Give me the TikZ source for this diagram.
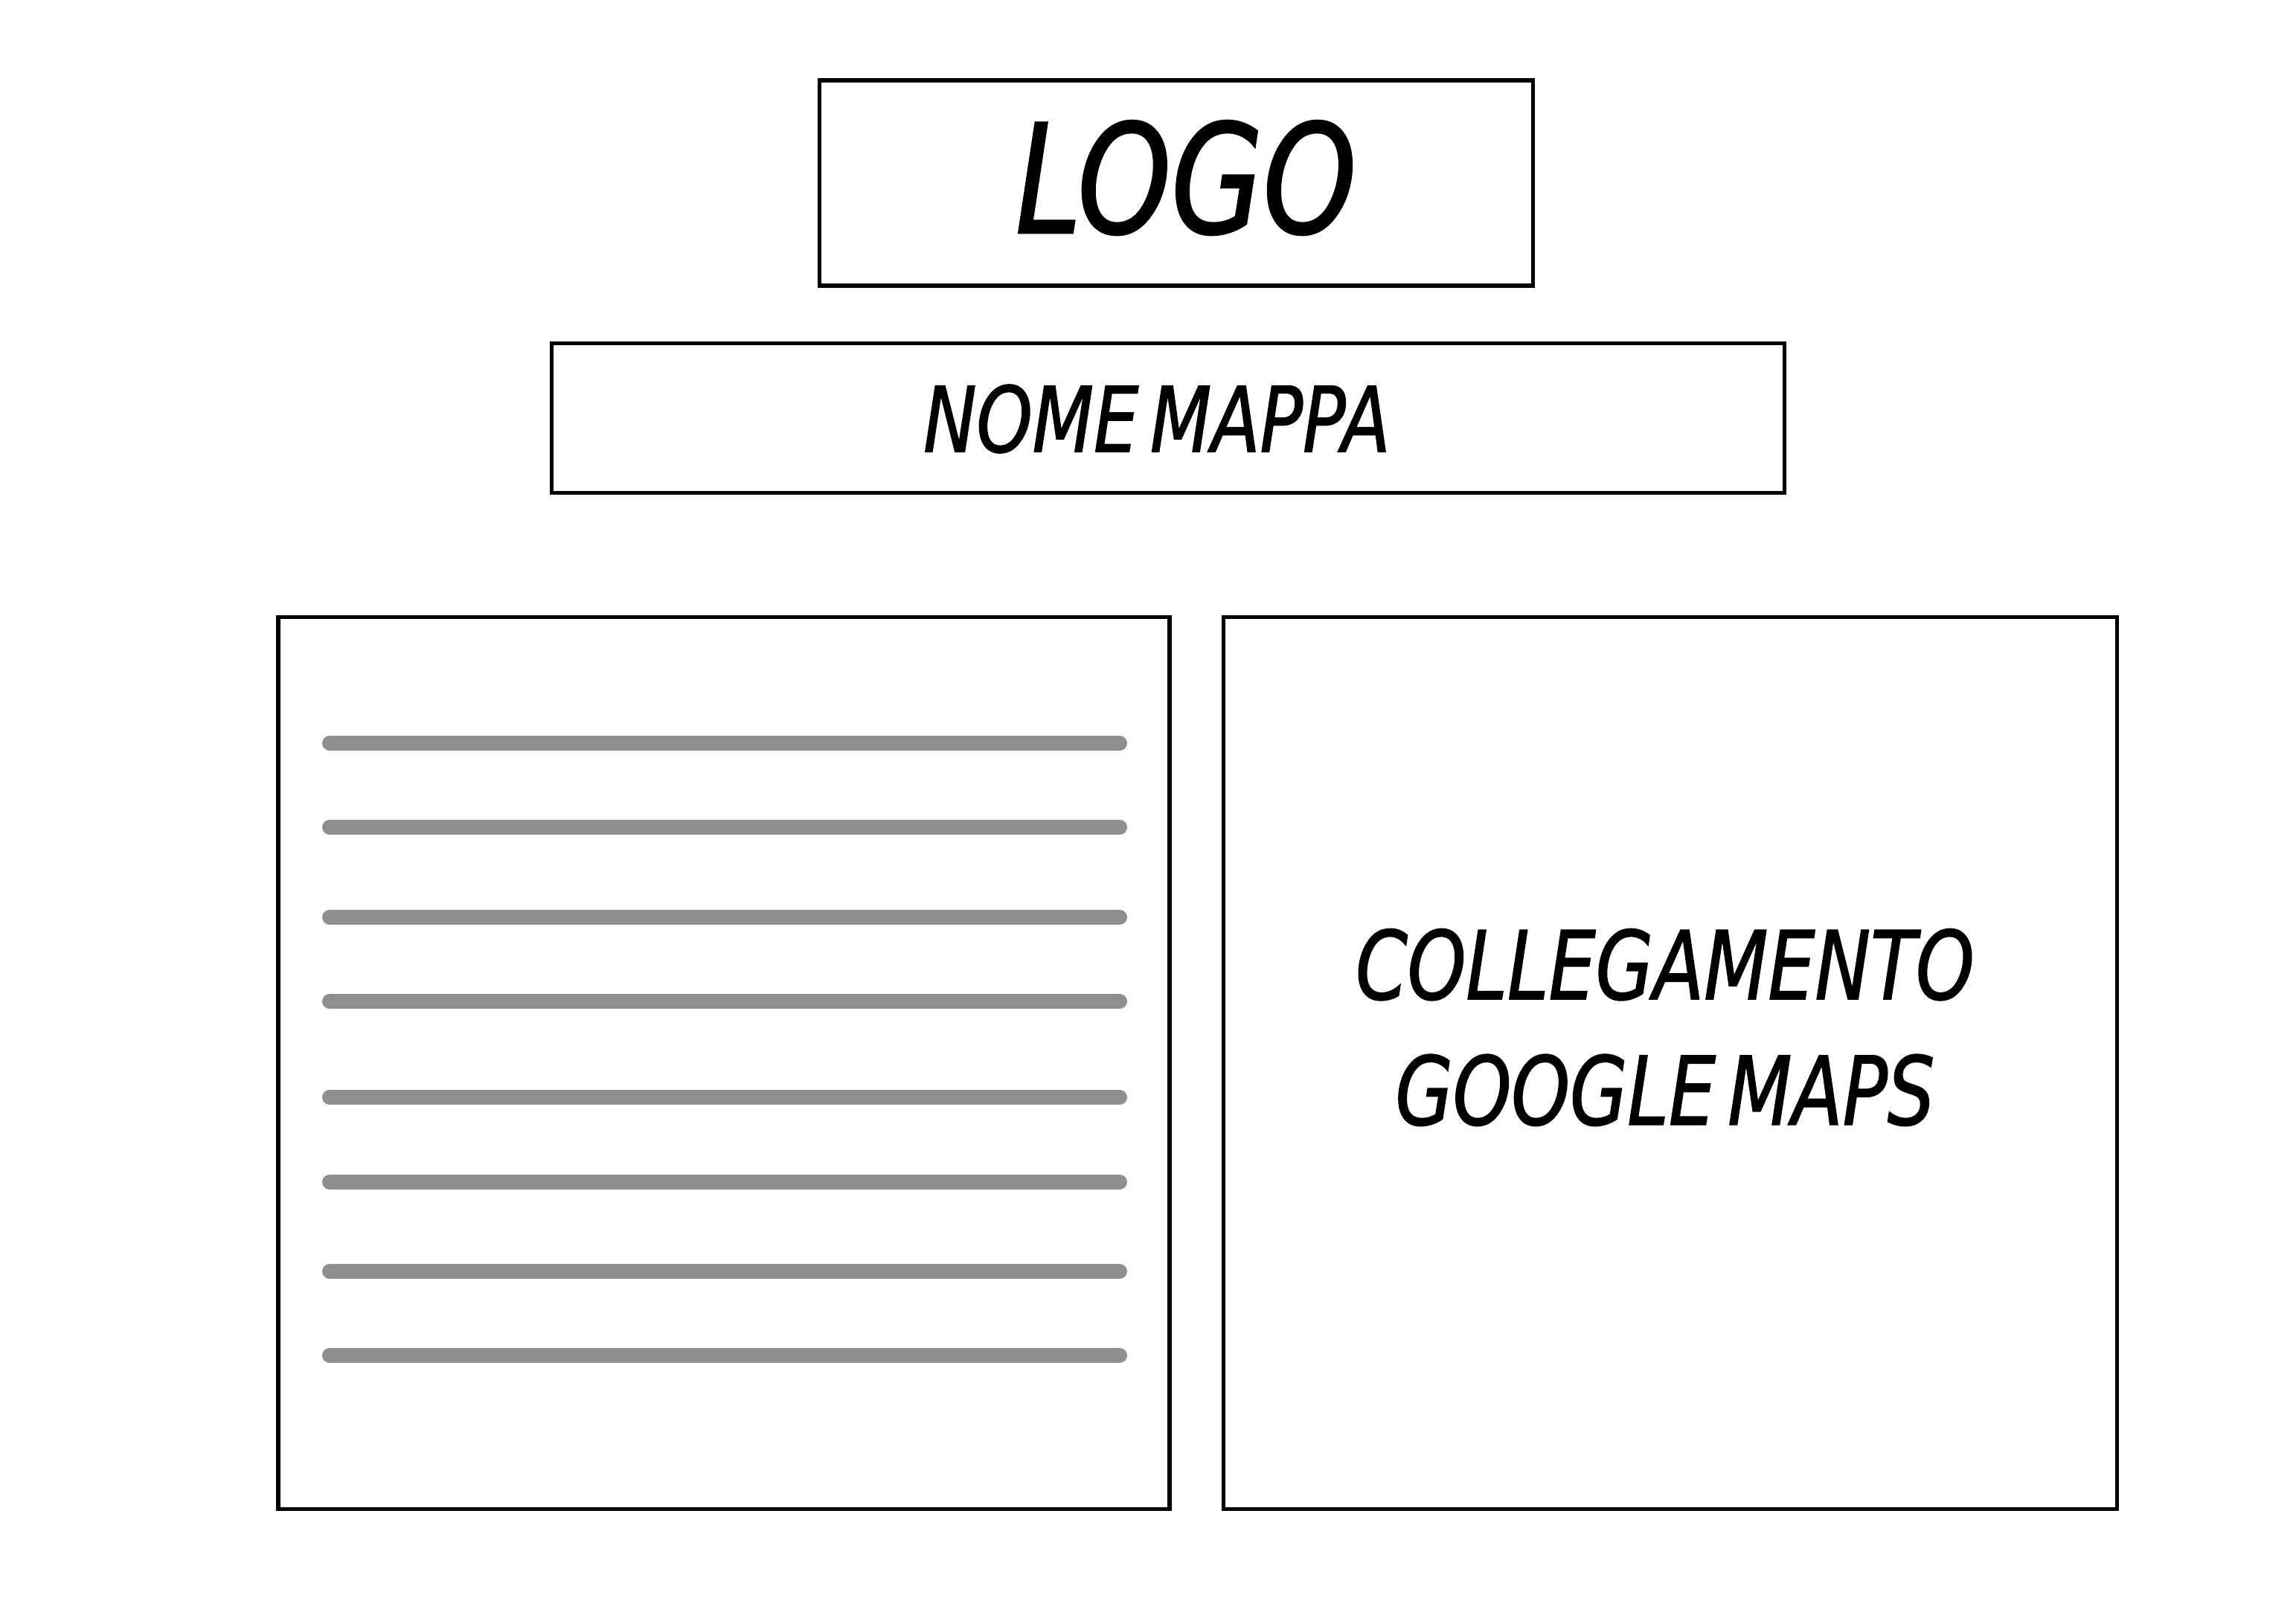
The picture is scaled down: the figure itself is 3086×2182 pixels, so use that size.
\documentclass[tikz,border=0pt]{standalone}
\usepackage{fontspec}
\newfontfamily\sketchfont{DejaVu Sans Condensed Oblique}[FakeStretch=0.87,FakeBold=1.2]
\definecolor{rulegray}{HTML}{8E8E8E}
\tikzset{
  frame/.style={draw,line width=0.55mm,inner sep=0pt},
  textline/.style={rulegray,line width=2mm,line cap=round}
}

\begin{document}
\begin{tikzpicture}[x=0.1mm,y=-0.1mm]
\useasboundingbox (0,0) rectangle (3086,2182);

% header
\node[frame,minimum width=95.9mm,minimum height=27.6mm] (logobox) at (1581,246) {};
\node[font=\sketchfont\fontsize{58}{60}\selectfont] (logo) at (1594,239) {LOGO};

\node[frame,minimum width=165.7mm,minimum height=20.1mm] (namebox) at (1570,562) {};
\node[font=\sketchfont\fontsize{34.7}{40}\selectfont] (name) at (1555,563) {NOME\hspace{-0.12em} MAPPA};

% content
\node[frame,minimum width=119.8mm,minimum height=119.9mm] (textbox) at (973,1429) {};
\foreach \y in {999,1112,1233,1346,1475,1589,1709,1822}
  \draw[textline] (443,\y) -- (1505,\y);

\node[frame,minimum width=120.1mm,minimum height=119.9mm] (mapbox) at (2245,1429) {};
\node[font=\sketchfont\fontsize{36.3}{48}\selectfont,align=center] (maplink) at (2238,1381)
  {COLLEGAMENTO\\GOOGLE\hspace{-0.12em} MAPS};

\end{tikzpicture}
\end{document}
